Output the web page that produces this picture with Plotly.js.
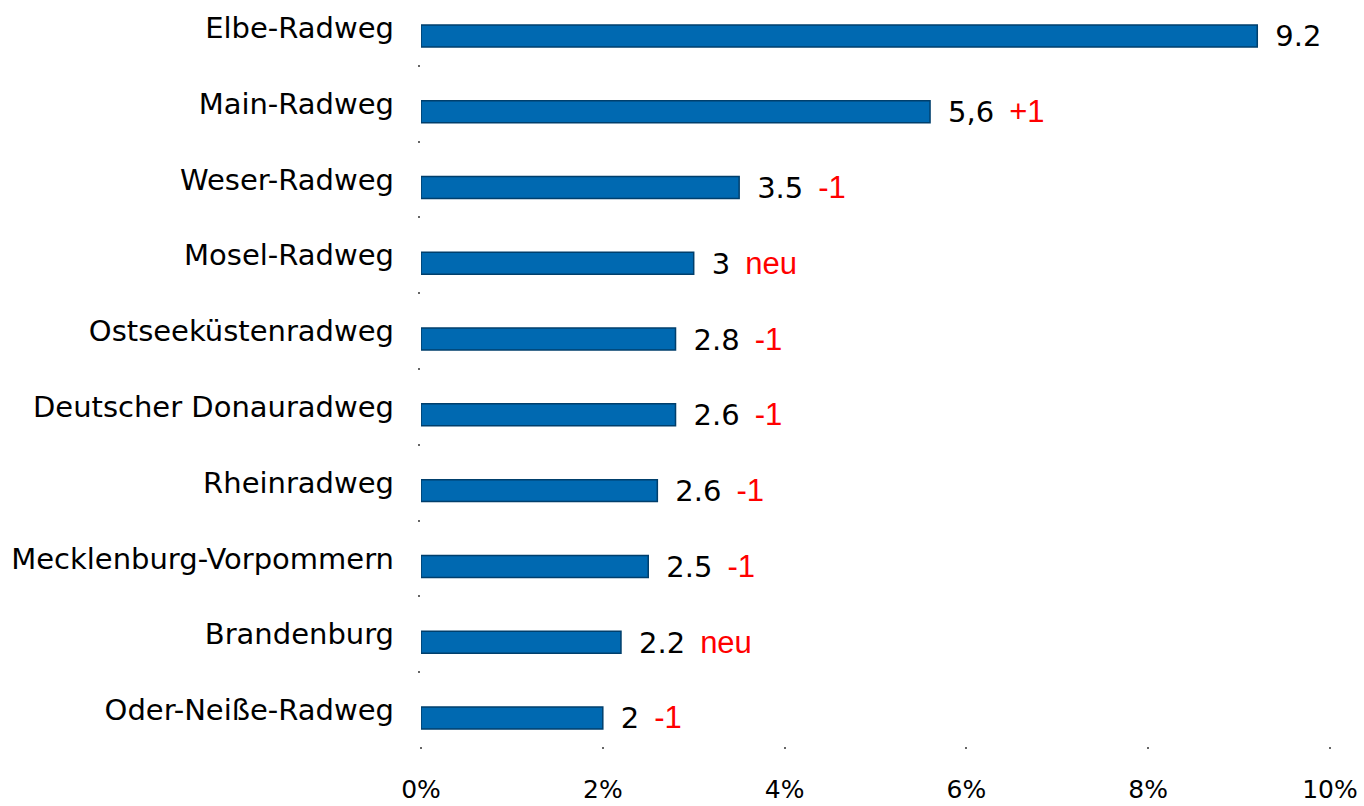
<!DOCTYPE html>
<html>
<head>
<meta charset="utf-8">
<script src="https://cdn.plot.ly/plotly-3.0.1.min.js"></script>
<style>
  html, body { margin: 0; padding: 0; background: #fff; }
  #chart { width: 1364px; height: 806px; }
</style>
</head>
<body>
<div id="chart"></div>
<script>
// Radwege, top to bottom
const routes = [
    "Elbe-Radweg",
    "Main-Radweg",
    "Weser-Radweg",
    "Mosel-Radweg",
    "Ostseeküstenradweg",
    "Deutscher Donauradweg",
    "Rheinradweg",
    "Mecklenburg-Vorpommern",
    "Brandenburg",
    "Oder-Neiße-Radweg"
];
const shares = [9.2, 5.6, 3.5, 3.0, 2.8, 2.8, 2.6, 2.5, 2.2, 2.0];
const shareLabels = ["9.2", "5,6", "3.5", "3", "2.8", "2.6", "2.6", "2.5", "2.2", "2"];
const rankChange = ["", "+1", "-1", "neu", "-1", "-1", "-1", "-1", "neu", "-1"];
const xTicks = [0, 2, 4, 6, 8, 10];

// value in black (wide font), rank change in red
const barText = shareLabels.map((lab, i) =>
    "&nbsp;&nbsp;" +
    '<span style="font-family:DejaVu Sans;font-size:29px">' + lab + "</span>" +
    "&nbsp;&nbsp;" +
    (rankChange[i]
        ? '<span style="color:#ff0000;font-size:31px">' + rankChange[i] + "</span>"
        : "")
);

const trace = {
    type: "bar",
    orientation: "h",
    y: routes,
    x: shares,
    width: 0.29,
    offset: -0.04,
    marker: {
        color: "#0069b1",
        line: { color: "#003f6c", width: 1.5 }
    },
    text: barText,
    textposition: "outside",
    constraintext: "none",
    cliponaxis: false,
    textfont: { family: "Liberation Sans, Arial, sans-serif", size: 27, color: "#000" },
    hoverinfo: "skip"
};

const layout = {
    width: 1364,
    height: 806,
    margin: { l: 421, r: 34, t: 0, b: 60 },
    paper_bgcolor: "#fff",
    plot_bgcolor: "#fff",
    showlegend: false,
    font: { family: "DejaVu Sans, sans-serif", size: 29, color: "#000" },
    xaxis: {
        range: [0, 10],
        tickvals: xTicks,
        ticktext: xTicks.map(v => v + "%"),
        showgrid: false,
        zeroline: false,
        showline: false,
        ticks: "outside",
        ticklen: 2,
        tickwidth: 2,
        tickcolor: "#666",
        ticklabelstandoff: 19,
        tickfont: { size: 25 }
    },
    yaxis: {
        type: "category",
        range: [9.475, -0.369],
        showgrid: false,
        zeroline: false,
        showline: false,
        ticks: "outside",
        tickson: "boundaries",
        ticklen: 2,
        tickwidth: 2,
        tickcolor: "#666",
        ticklabelstandoff: 26,
        tickfont: { size: 29 }
    }
};

Plotly.newPlot("chart", [trace], layout, { staticPlot: true });
</script>
</body>
</html>
